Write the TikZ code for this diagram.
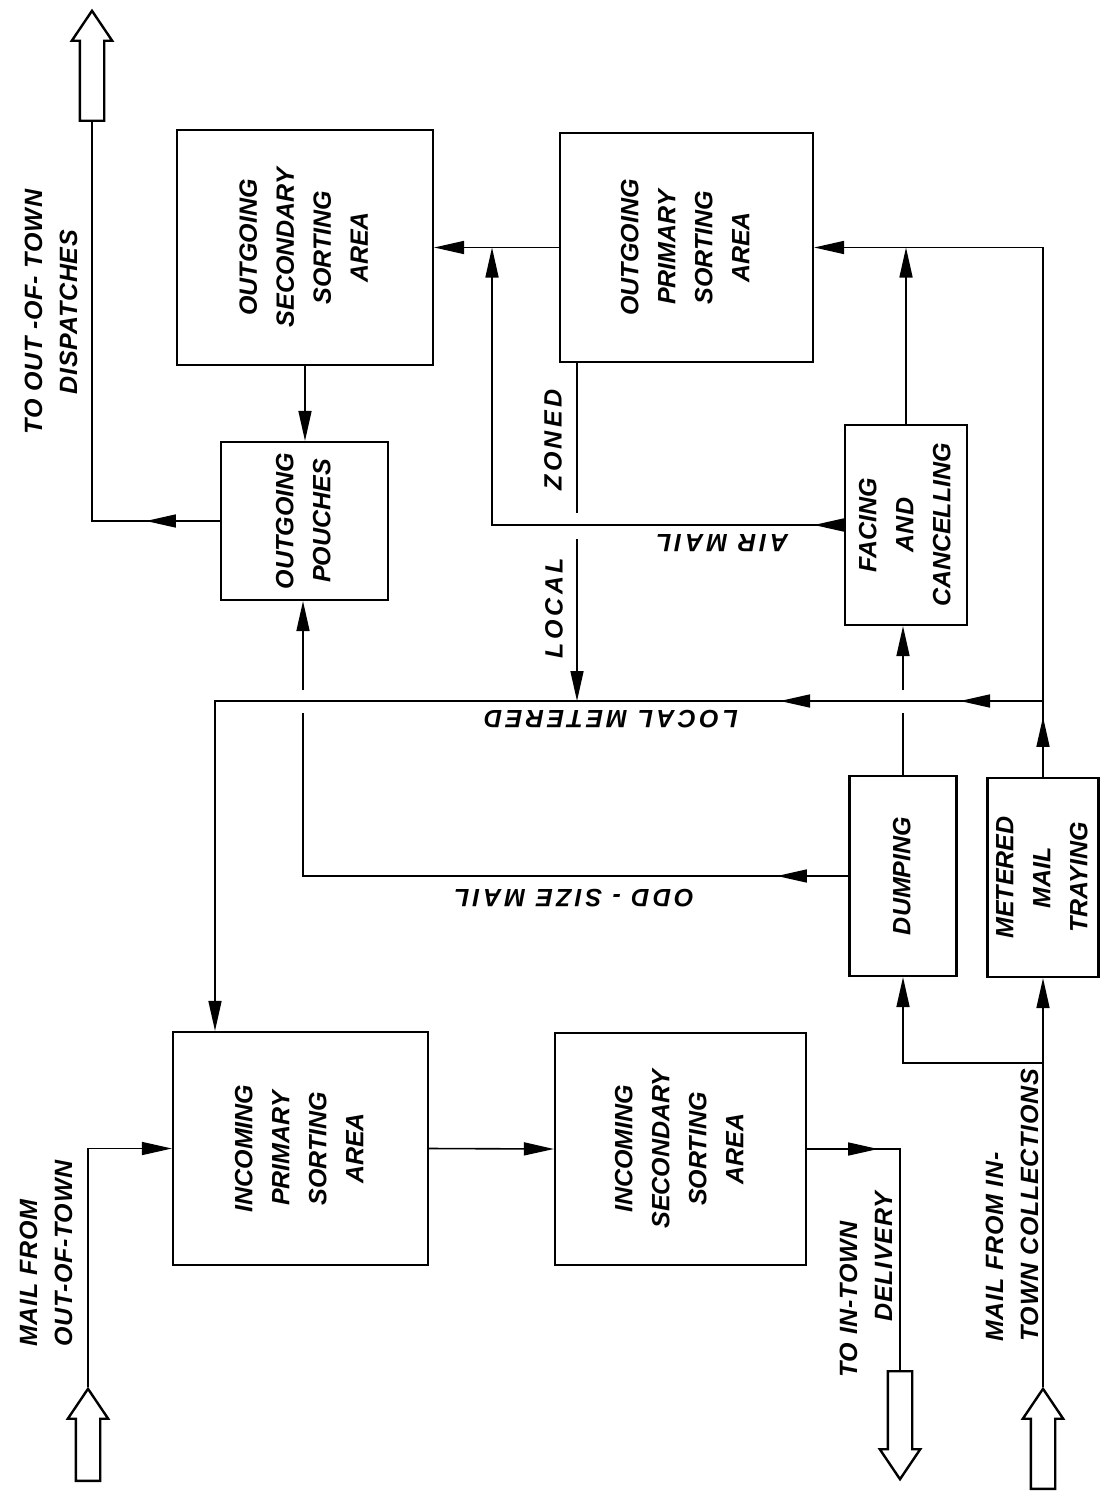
\documentclass[tikz,border=0pt]{standalone}
\usepackage{fontspec}
\usepackage{graphicx}
\setmainfont{Liberation Sans}
\newfontfamily\boxfont{Liberation Sans}
\newfontfamily\flowfont[LetterSpace=14]{Liberation Sans}
\newfontfamily\outfont[LetterSpace=3]{Liberation Sans}
\usetikzlibrary{arrows.meta,shapes.arrows,decorations.markings}
\newcommand\vlines[1]{\rotatebox{90}{\begin{tabular}{@{}c@{}}#1\end{tabular}}}
\tikzset{
  box/.style={draw, line width=1.1pt, inner sep=0pt,
    font=\boxfont\bfseries\itshape\fontsize{12.5}{18.5}\selectfont},
  conn/.style={line width=0.8pt},
  toarr/.style={-{Triangle[length=15pt,width=6.5pt]}},
  midarr/.style={postaction={decorate, decoration={markings,
      mark=at position #1 with {\arrow{Triangle[length=15pt,width=6.5pt]}}}}},
  hollow/.style={single arrow, draw, line width=1.2pt, inner sep=5.5pt,
    single arrow head extend=4pt, single arrow tip angle=68,
    minimum height=#1},
  flow/.style={inner sep=0pt, font=\flowfont\bfseries\itshape\fontsize{12.5}{15}\selectfont},
  outer/.style={inner sep=0pt, font=\outfont\bfseries\itshape\fontsize{12.5}{17.5}\selectfont},
}
\begin{document}
\begin{tikzpicture}[x=0.5pt,y=-0.5pt]
\fill[white] (0,0) rectangle (1112,1503);
\useasboundingbox (0,0) rectangle (1112,1503);

% boxes
\node[box, minimum width=128pt, minimum height=117.5pt] (OSS) at (305,247.5)
  {\vlines{OUTGOING\\SECONDARY\\SORTING\\AREA}};
\node[box, minimum width=126.5pt, minimum height=114.5pt] (OSP) at (686.5,247.5)
  {\vlines{OUTGOING\\PRIMARY\\SORTING\\AREA}};
\node[box, minimum width=83.5pt, minimum height=79pt] (OP) at (304.5,521)
  {\vlines{OUTGOING\\POUCHES}};
\node[box, minimum width=61pt, minimum height=100pt] (FC) at (906,525)
  {\vlines{FACING\\AND\\CANCELLING}};
\node[box, minimum width=53.5pt, minimum height=100pt] (DUMP) at (903,876)
  {\vlines{DUMPING}};
\node[box, minimum width=52pt, minimum height=99.5pt] (MMT) at (1043,877.5)
  {\vlines{METERED\\MAIL\\TRAYING}};
\node[box, minimum width=127.5pt, minimum height=116.5pt] (IPS) at (300.5,1148.5)
  {\vlines{INCOMING\\PRIMARY\\SORTING\\AREA}};
\node[box, minimum width=125.5pt, minimum height=116pt] (ISS) at (680.5,1149)
  {\vlines{INCOMING\\SECONDARY\\SORTING\\AREA}};

% hollow arrows
\node[hollow=55pt, rotate=90, anchor=tail] (outA) at (92,122) {};
\node[hollow=46pt, rotate=90, anchor=tail] (inA) at (88,1482) {};
\node[hollow=54pt, rotate=-90, anchor=tail] (delA) at (900,1370) {};
\node[hollow=50pt, rotate=90, anchor=tail] (colA) at (1043,1490) {};

% coordinates
\coordinate (brI) at (1043,1063);
\coordinate (lmR) at (1043,701);
\coordinate (lmL) at (215,701);
\coordinate (airJ) at (492,247.5);
\coordinate (zA) at (577,513);
\coordinate (zB) at (577,539);
\coordinate (oA) at (303,713);
\coordinate (oB) at (303,690);
\coordinate (dA) at (903,713);
\coordinate (dB) at (903,690);

% connectors
\draw[conn,toarr] (colA.tip) -- (MMT.south);
\draw[conn,toarr] (brI) -| (DUMP.south);
\draw[conn,toarr,midarr=30pt] (MMT.north) |- (OSP.east);
\draw[conn,toarr,midarr=41.5pt,midarr=131.5pt] (lmR) -- (lmL) -- (lmL |- IPS.north);
\draw[conn,toarr] (FC.north) -- (FC.north |- OSP.east);
\draw[conn,toarr,midarr=15pt] (FC.west) -| (airJ);
\draw[conn,toarr] (OSP.west) -- (OSS.east);
\draw[conn] (OSP.south -| zA) -- (zA);
\draw[conn,toarr] (zB) -- (zB |- lmR);
\draw[conn,toarr] (OSS.south) -- (OSS.south |- OP.north);
\draw[conn,midarr=37pt] (OP.west) -| (outA.tail);
\draw[conn,midarr=35.75pt] (DUMP.west) -| (oA);
\draw[conn,toarr] (oB) -- (oB |- OP.south);
\draw[conn] (DUMP.north) -- (dA);
\draw[conn,toarr] (dB) -- (dB |- FC.south);
\draw[conn,toarr] (inA.tip) |- (IPS.west);
\draw[conn,toarr] (IPS.east) -- (ISS.west);
\draw[conn,midarr=35.5pt] (ISS.east) -| (delA.tail);

% flow labels
\node[flow, rotate=90] (lZ) at (553,440) {ZONED};
\node[flow, rotate=90] (lL) at (554,608) {LOCAL};
\node[flow, rotate=180] (lA) at (722,543) {AIR MAIL};
\node[flow, rotate=180] (lLM) at (611,719) {LOCAL METERED};
\node[flow, rotate=180] (lO) at (574,898) {ODD - SIZE MAIL};

% outer labels
\node[outer, rotate=90, align=center] (tOut) at (51,312) {TO OUT -OF- TOWN\\DISPATCHES};
\node[outer, rotate=90, align=left, anchor=west] (tIn) at (46,1347) {MAIL FROM\\OUT-OF-TOWN};
\node[outer, rotate=90, align=left, anchor=west] (tDel) at (866,1378) {TO IN-TOWN\\\hspace*{28pt}DELIVERY};
\node[outer, rotate=90, align=left, anchor=west] (tCol) at (1012,1342) {MAIL FROM IN-\\TOWN COLLECTIONS};
\end{tikzpicture}
\end{document}
